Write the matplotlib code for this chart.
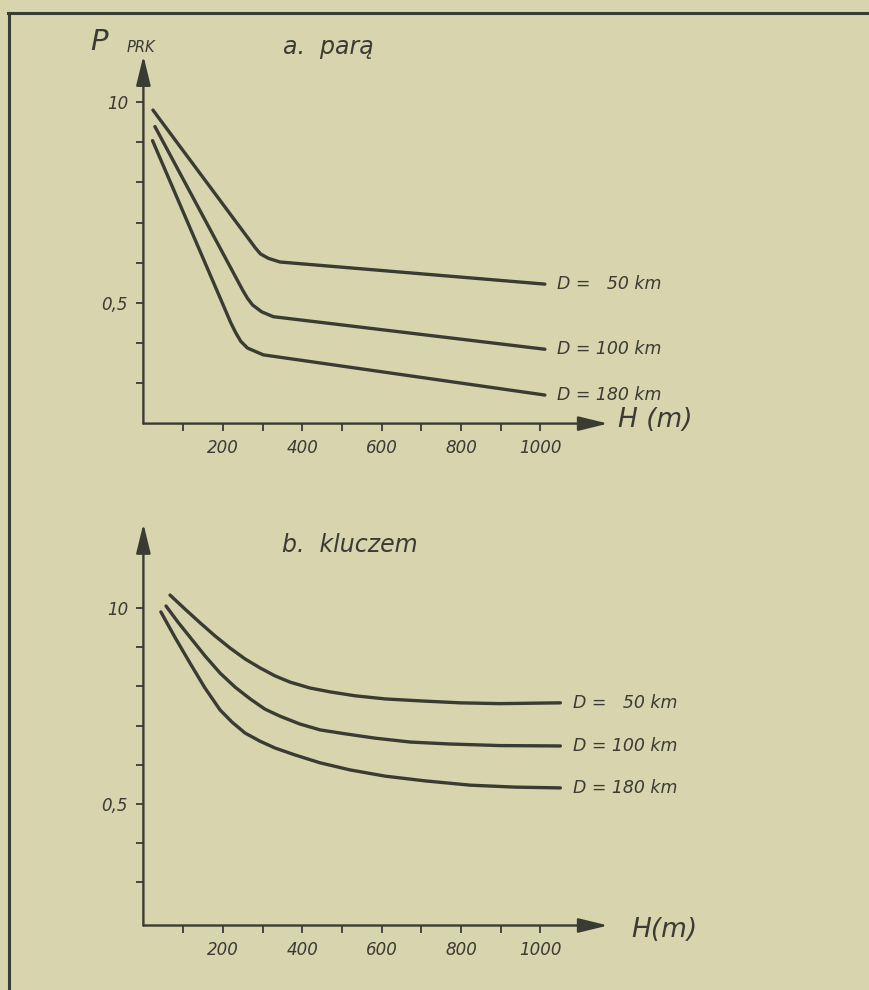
import matplotlib
matplotlib.use("Agg")
import matplotlib.pyplot as plt
from matplotlib.lines import Line2D

# ---------------- data ----------------
x_ticks = [100, 200, 300, 400, 500, 600, 700, 800, 900, 1000]
x_tick_labels = ["", "200", "", "400", "", "600", "", "800", "", "1000"]
y_ticks = [0.3, 0.4, 0.5, 0.6, 0.7, 0.8, 0.9, 1.0]
y_tick_labels = ["", "", "0,5", "", "", "", "", "10"]

series_labels = ["D =   50 km", "D = 100 km", "D = 180 km"]

# panel a (para)
a_H50 = [24, 270, 282, 295, 315, 344, 1011]
a_P50 = [0.98, 0.653, 0.637, 0.622, 0.611, 0.602, 0.547]
a_H100 = [29, 250, 262, 275, 298, 327, 1011]
a_P100 = [0.939, 0.532, 0.512, 0.495, 0.478, 0.466, 0.385]
a_H180 = [23, 220, 232, 245, 262, 302, 1011]
a_P180 = [0.904, 0.451, 0.427, 0.405, 0.388, 0.371, 0.271]

# panel b (kluczem)
b_H50 = [67, 105, 143, 180, 218, 256, 294, 331, 369, 419, 470, 533, 609, 697, 798, 898, 1050]
b_P50 = [1.033, 0.997, 0.962, 0.929, 0.898, 0.870, 0.847, 0.827, 0.811, 0.796,
         0.786, 0.776, 0.768, 0.763, 0.758, 0.756, 0.758]
b_H100 = [57, 87, 117, 155, 193, 231, 269, 306, 344, 394, 445, 508, 583, 672, 772, 898, 1050]
b_P100 = [1.005, 0.964, 0.926, 0.878, 0.834, 0.798, 0.768, 0.742, 0.724, 0.704,
          0.689, 0.679, 0.668, 0.658, 0.653, 0.649, 0.648]
b_H180 = [44, 79, 117, 155, 193, 223, 256, 294, 331, 382, 445, 520, 609, 709, 823, 936, 1050]
b_P180 = [0.990, 0.926, 0.860, 0.796, 0.740, 0.709, 0.681, 0.660, 0.643, 0.625,
          0.605, 0.587, 0.571, 0.559, 0.548, 0.543, 0.541]

# ---------------- style ----------------
BG = "#d7d4ae"
INK = "#3a3b33"
FONT = "DejaVu Sans"

fig = plt.figure(figsize=(8.69, 9.90), dpi=100, facecolor=BG)

W, Hpx = 869.0, 990.0


def make_axes(left_px, right_px, top_px, bottom_px):
    return fig.add_axes([left_px / W, 1 - bottom_px / Hpx,
                         (right_px - left_px) / W, (bottom_px - top_px) / Hpx])


def style_axes(ax, ylim):
    ax.set_facecolor("none")
    ax.set_xlim(0, 1170)
    ax.set_ylim(*ylim)
    for s in ax.spines.values():
        s.set_visible(False)
    ax.set_xticks(x_ticks)
    ax.set_xticklabels(x_tick_labels)
    ax.set_yticks(y_ticks)
    ax.set_yticklabels(y_tick_labels)
    ax.tick_params(direction="out", length=5, width=1.3, color=INK,
                   labelcolor=INK, labelsize=12, pad=6)
    for lab in ax.get_xticklabels() + ax.get_yticklabels():
        lab.set_fontstyle("italic")
        lab.set_family(FONT)
    # axis lines with arrows
    ap = dict(arrowstyle="-|>,head_length=0.9,head_width=0.22",
              lw=1.7, color=INK, mutation_scale=20, shrinkA=0, shrinkB=0)
    ax.annotate("", xy=(1, 0), xytext=(0, 0), xycoords="axes fraction",
                textcoords="axes fraction", arrowprops=ap, annotation_clip=False)
    ax.annotate("", xy=(0, 1), xytext=(0, 0), xycoords="axes fraction",
                textcoords="axes fraction", arrowprops=ap, annotation_clip=False)


line_kw = dict(color=INK, lw=2.4, solid_capstyle="round", solid_joinstyle="round")
txt_kw = dict(color=INK, fontstyle="italic", family=FONT)

# ---- panel a ----
axa = make_axes(143.4, 608, 55.8, 423.6)
style_axes(axa, (0.2, 1.115))
axa.plot(a_H50, a_P50, **line_kw)
axa.plot(a_H100, a_P100, **line_kw)
axa.plot(a_H180, a_P180, **line_kw)
for lab, Hs, Ps in zip(series_labels, [a_H50, a_H100, a_H180], [a_P50, a_P100, a_P180]):
    axa.text(Hs[-1] + 30, Ps[-1], lab, fontsize=12.5, ha="left", va="center",
             clip_on=False, **txt_kw)

# ---- panel b ----
axb = make_axes(143.4, 608, 523.7, 925.5)
style_axes(axb, (0.19, 1.215))
axb.plot(b_H50, b_P50, **line_kw)
axb.plot(b_H100, b_P100, **line_kw)
axb.plot(b_H180, b_P180, **line_kw)
for lab, Hs, Ps in zip(series_labels, [b_H50, b_H100, b_H180], [b_P50, b_P100, b_P180]):
    axb.text(Hs[-1] + 32, Ps[-1], lab, fontsize=12.5, ha="left", va="center",
             clip_on=False, **txt_kw)

# ---- figure texts ----
fig.text(99 / W, 1 - 42 / Hpx, "P", fontsize=21, ha="center", va="center", **txt_kw)
fig.text(141 / W, 1 - 48 / Hpx, "PRK", fontsize=10.5, ha="center", va="center", **txt_kw)
fig.text(328 / W, 1 - 47 / Hpx, "a.  parą", fontsize=17, ha="center", va="center", **txt_kw)
fig.text(350 / W, 1 - 545 / Hpx, "b.  kluczem", fontsize=17, ha="center", va="center", **txt_kw)
fig.text(618 / W, 1 - 420 / Hpx, "H (m)", fontsize=19, ha="left", va="center", **txt_kw)
fig.text(631 / W, 1 - 930 / Hpx, "H(m)", fontsize=19, ha="left", va="center", **txt_kw)

# ---- frame ----
fig.add_artist(Line2D([8 / W, 1.0], [1 - 13 / Hpx, 1 - 13 / Hpx], transform=fig.transFigure,
                      color=INK, lw=2.2))
fig.add_artist(Line2D([9 / W, 9 / W], [1 - 13 / Hpx, 0.0], transform=fig.transFigure,
                      color=INK, lw=2.2))

fig.savefig("out.png", dpi=100, facecolor=BG)
